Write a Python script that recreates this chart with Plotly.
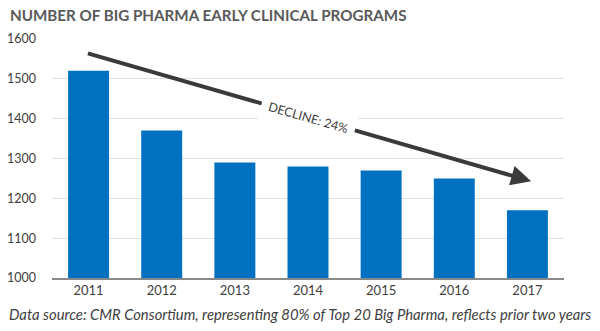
import plotly.graph_objects as go

years = ["2011", "2012", "2013", "2014", "2015", "2016", "2017"]
programs = [1520, 1370, 1290, 1280, 1270, 1250, 1170]
y_ticks = [1000, 1100, 1200, 1300, 1400, 1500, 1600]

title_text = "NUMBER OF BIG PHARMA EARLY CLINICAL PROGRAMS"
source_text = "Data source: CMR Consortium, representing 80% of Top 20 Big Pharma, reflects prior two years"
arrow_label = "DECLINE: 24%"

fig = go.Figure(go.Bar(x=years, y=programs, marker=dict(color="#0070C0", line=dict(width=0))))

fig.update_layout(
    width=600, height=331,
    margin=dict(l=52, r=36, t=39, b=53),
    paper_bgcolor="white", plot_bgcolor="white",
    bargap=0.44,
    showlegend=False,
    font=dict(family="Lato, sans-serif", color="#595959", size=13),
)
fig.update_xaxes(type="category", showline=True, linecolor="#898989", linewidth=1.5, automargin=False,
                 ticks="", showgrid=False, tickfont=dict(size=13, color="#404040"))
fig.update_yaxes(range=[1000, 1600], tickvals=y_ticks, showgrid=True, gridcolor="#e0e0e0",
                 gridwidth=1, zeroline=False, ticks="", ticklabelstandoff=15, automargin=False,
                 tickfont=dict(size=12.5, color="#404040"))

fig.add_annotation(xref="paper", yref="paper", x=-0.086, y=1.0, yshift=24, xanchor="left", yanchor="middle",
                   text="<b>" + title_text + "</b>", showarrow=False,
                   font=dict(family="Lato, sans-serif", size=15.2, color="#595959"))
fig.add_annotation(xref="paper", yref="paper", x=-0.088, y=0, yshift=-36, xanchor="left", yanchor="middle",
                   text="<i>" + source_text + "</i>", showarrow=False,
                   font=dict(family="Lato, sans-serif", size=14.8, color="#404040"))

fig.add_annotation(x=6.05, y=1243, ax=-0.03, ay=1565, xref="x", yref="y", axref="x", ayref="y",
                   text="", showarrow=True, arrowhead=2, arrowsize=1.0, arrowwidth=4, arrowcolor="#3a3a3a")
fig.add_annotation(x=3.0, y=1402, xref="x", yref="y", text=arrow_label, showarrow=False,
                   textangle=16, bgcolor="white", borderpad=7,
                   font=dict(family="Lato, sans-serif", size=12.5, color="#404040"))

fig.write_html("out.html")
